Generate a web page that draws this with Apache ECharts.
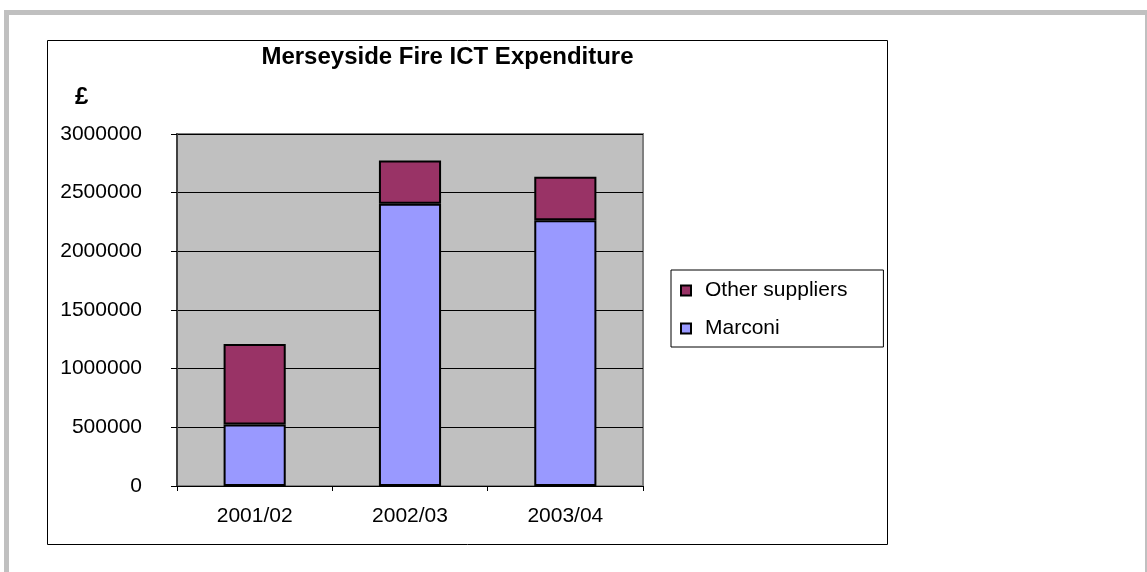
<!DOCTYPE html>
<html>
<head>
<meta charset="utf-8">
<script src="https://cdn.jsdelivr.net/npm/echarts@6/dist/echarts.min.js"></script>
<style>
html,body{margin:0;padding:0;background:#fff;}
#main{width:1147px;height:572px;}
</style>
</head>
<body>
<div id="main"></div>
<script>
var categories = ['2001/02', '2002/03', '2003/04'];
var marconi = [525000, 2405000, 2265000];
var otherSuppliers = [685000, 370000, 370000];
var yTicks = { min: 0, max: 3000000, interval: 500000 };
var titleText = 'Merseyside Fire ICT Expenditure';
var unitText = '£';

var FONT = "'Liberation Sans', Arial, sans-serif";
var chart = echarts.init(document.getElementById('main'), null, {renderer: 'canvas'});
chart.setOption({
  backgroundColor: '#ffffff',
  animation: false,
  graphic: [
    {type: 'rect', shape: {x: 4, y: 10, width: 1143, height: 5}, style: {fill: '#c0c0c0'}, silent: true},
    {type: 'rect', shape: {x: 4, y: 10, width: 5, height: 562}, style: {fill: '#c0c0c0'}, silent: true},
    {type: 'rect', shape: {x: 1145, y: 10, width: 2, height: 562}, style: {fill: '#c0c0c0'}, silent: true},
    {type: 'rect', shape: {x: 47.5, y: 40.5, width: 840, height: 504}, style: {fill: 'none', stroke: '#000', lineWidth: 1}, silent: true, z: 0}
  ],
  title: [
    {text: titleText, left: 447.5, top: 45, padding: 0, textAlign: 'center',
     textStyle: {fontFamily: FONT, fontWeight: 'bold', fontSize: 24, color: '#000'}},
    {text: unitText, left: 75, top: 85, padding: 0,
     textStyle: {fontFamily: FONT, fontWeight: 'bold', fontSize: 24, color: '#000'}}
  ],
  legend: {
    orient: 'vertical',
    left: 671, top: 270,
    padding: [10, 36, 8, 9],
    itemGap: 17,
    itemWidth: 10, itemHeight: 10,
    icon: 'rect',
    borderColor: '#000', borderWidth: 1,
    backgroundColor: '#fff',
    data: ['Other suppliers', 'Marconi'],
    textStyle: {fontFamily: FONT, fontSize: 21, color: '#000', padding: [0, 0, 0, 9]},
    itemStyle: {borderColor: '#000', borderWidth: 2}
  },
  grid: {
    left: 177, top: 134, width: 466, height: 352,
    show: true, backgroundColor: '#c0c0c0', borderColor: '#808080', borderWidth: 2,
    containLabel: false
  },
  xAxis: {
    type: 'category',
    data: categories,
    axisLine: {show: true, lineStyle: {color: '#000', width: 1}},
    axisTick: {show: true, alignWithLabel: false, interval: 0, length: 5, lineStyle: {color: '#000'}},
    axisLabel: {fontFamily: FONT, fontSize: 21, color: '#000', margin: 20},
    splitLine: {show: false}
  },
  yAxis: {
    type: 'value',
    min: yTicks.min, max: yTicks.max, interval: yTicks.interval,
    axisLine: {show: true, lineStyle: {color: '#404040', width: 2}},
    axisTick: {show: true, length: 6, inside: false, lineStyle: {color: '#000'}},
    axisLabel: {fontFamily: FONT, fontSize: 21, color: '#000', margin: 35,
      formatter: function (v) { return String(v); }},
    splitLine: {show: true, lineStyle: {color: '#000', width: 1}}
  },
  series: [
    {name: 'Marconi', type: 'bar', stack: 'total', data: marconi, barWidth: '40%',
     itemStyle: {color: '#9999ff', borderColor: '#000', borderWidth: 2}},
    {name: 'Other suppliers', type: 'bar', stack: 'total', data: otherSuppliers, barWidth: '40%',
     itemStyle: {color: '#993366', borderColor: '#000', borderWidth: 2}}
  ]
});
</script>
</body>
</html>
